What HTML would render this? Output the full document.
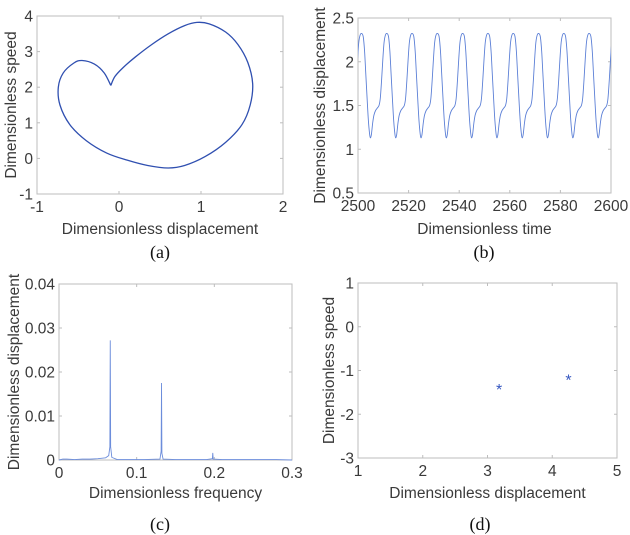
<!DOCTYPE html>
<html><head><meta charset="utf-8"><style>
html,body{margin:0;padding:0;background:#fff;width:630px;height:535px;overflow:hidden}
svg{display:block;font-family:"Liberation Sans",sans-serif}
.tk{font-size:15.5px;fill:#3a3a3a}
.at{font-size:15.5px;fill:#3a3a3a}
.cap{font-family:"Liberation Serif",serif;font-size:18px;fill:#111}
</style></head><body>
<svg id="fig" width="630" height="535" viewBox="0 0 630 535"></svg>
<script>
// ---- (a) phase portrait data ----
const aX = [-0.1,-0.05,0.05,0.2,0.4,0.6,0.8,0.95,1.1,1.3,1.45,1.57,1.63,1.6,1.5,1.3,1.05,0.8,0.6,0.35,0.1,-0.15,-0.4,-0.6,-0.72,-0.74,-0.68,-0.55,-0.45,-0.3,-0.18,-0.1];
const aY = [2.05,2.3,2.55,2.85,3.2,3.5,3.73,3.82,3.78,3.55,3.2,2.7,2.1,1.5,0.95,0.45,0.05,-0.2,-0.27,-0.2,-0.05,0.15,0.5,0.95,1.5,2.0,2.4,2.68,2.75,2.65,2.4,2.05];
const aXTicks = [-1,0,1,2];
const aYTicks = [-1,0,1,2,3,4];
// ---- (b) time series data ----
const bPeakTimes = [2491.6,2501.6,2511.6,2521.6,2531.6,2541.6,2551.6,2561.6,2571.6,2581.6,2591.6];
const bOffsets = [0,0.5,1,1.5,2,2.5,3,3.3,3.7,4.2,4.7,5.3,6,6.7,7.2,7.7,8.2,8.7,9.3];
const bValues  = [2.32,2.28,2.12,1.85,1.58,1.33,1.17,1.13,1.17,1.3,1.39,1.44,1.47,1.5,1.58,1.78,2.02,2.22,2.31];
const bXTicks = [2500,2520,2540,2560,2580,2600];
const bYTicks = [0.5,1,1.5,2,2.5];
// ---- (c) spectrum data ----
const cFreq = [0,0.005,0.01,0.02,0.03,0.04,0.05,0.06,0.064,0.0655,0.066,0.0665,0.068,0.075,0.09,0.11,0.13,0.1315,0.132,0.1325,0.134,0.15,0.17,0.19,0.1975,0.198,0.1985,0.21,0.23,0.26,0.28,0.3];
const cAmp  = [0,0.0002,0.0002,0.0001,0.0002,0.0002,0.0003,0.0005,0.001,0.003,0.0272,0.003,0.0006,0.0001,0.0001,0.0001,0.0002,0.002,0.0175,0.0015,0.0002,0.0001,0.0001,0.0001,0.0003,0.0016,0.0002,0.0001,0.0001,0.0001,0.0001,0];
const cXTicks = [0,0.1,0.2,0.3];
const cYTicks = [0,0.01,0.02,0.03,0.04];
// ---- (d) Poincaré points ----
const dX = [3.18,4.25];
const dY = [-1.4,-1.18];
const dXTicks = [1,2,3,4,5];
const dYTicks = [-3,-2,-1,0,1];

const NS="http://www.w3.org/2000/svg";
const svg=document.getElementById('fig');
function mk(t,at,p){const e=document.createElementNS(NS,t);for(const k in at)e.setAttribute(k,at[k]);(p||svg).appendChild(e);return e;}
function axes(id,L,R,T,B,x0,x1,y0,y1,xt,yt,xl,yl,fmt,cap,capx,capy,xlY,ylX){
  const g=mk('g',{});
  
  
  const sx=v=>L+(v-x0)/(x1-x0)*(R-L), sy=v=>B-(v-y0)/(y1-y0)*(B-T);
  const box=mk('rect',{x:L,y:T,width:R-L,height:B-T,fill:'none',stroke:'#bdbdbd','stroke-width':1},g);
  
  
  xt.forEach(v=>{const x=sx(v);
    mk('line',{x1:x,x2:x,y1:B,y2:B-3,stroke:'#bdbdbd'},g);mk('line',{x1:x,x2:x,y1:T,y2:T+3,stroke:'#bdbdbd'},g);
    const t=mk('text',{x:x,y:B+18,'text-anchor':'middle',class:'tk'},g);t.textContent=fmt(v);
    
    });
  yt.forEach(v=>{const y=sy(v);
    mk('line',{x1:L,x2:L+3,y1:y,y2:y,stroke:'#bdbdbd'},g);mk('line',{x1:R,x2:R-3,y1:y,y2:y,stroke:'#bdbdbd'},g);
    const t=mk('text',{x:L-4,y:y+5.5,'text-anchor':'end',class:'tk'},g);t.textContent=fmt(v);
    
    });
  const xa=mk('text',{x:(L+R)/2,y:xlY,'text-anchor':'middle',class:'at'},g);xa.textContent=xl;
  
  
  const ya=mk('text',{x:0,y:0,'text-anchor':'middle',class:'at',transform:`translate(${ylX},${(T+B)/2}) rotate(-90)`},g);ya.textContent=yl;
  
  
  const c=mk('text',{x:capx,y:capy,'text-anchor':'middle',class:'cap'},g);c.textContent=cap;
  
  
  return {g,sx,sy};
}
const fmtN=v=>String(v);
function smooth(px){let d=`M${px[0][0]},${px[0][1]}`;const n=px.length;
  for(let i=0;i<n-1;i++){const p0=px[Math.max(i-1,0)],p1=px[i],p2=px[i+1],p3=px[Math.min(i+2,n-1)];
    d+=` C${p1[0]+(p2[0]-p0[0])/6},${p1[1]+(p2[1]-p0[1])/6} ${p2[0]-(p3[0]-p1[0])/6},${p2[1]-(p3[1]-p1[1])/6} ${p2[0]},${p2[1]}`;}
  return d;}
// (a)
let A=axes('a',37,283,16,194,-1,2,-1,4,aXTicks,aYTicks,'Dimensionless displacement','Dimensionless speed',fmtN,'(a)',160,258,234,16);
const aPts=aX.map((x,i)=>[A.sx(x),A.sy(aY[i])]);
const pa=mk('path',{d:smooth(aPts),fill:'none',stroke:'#2f4fb0','stroke-width':1.3},A.g);


// (b)
let Bp=axes('b',358,611,18,193,2500,2600,0.5,2.5,bXTicks,bYTicks,'Dimensionless time','Dimensionless displacement',fmtN,'(b)',484,258,234,325);
let bPts=[];
bPeakTimes.forEach(p=>bOffsets.forEach((o,i)=>{const t=p+o;if(t>=2499&&t<=2601)bPts.push([Bp.sx(t),Bp.sy(bValues[i])]);}));
const cp=mk('clipPath',{id:'cb'});mk('rect',{x:358,y:18,width:253,height:175},cp);
const pb=mk('path',{d:smooth(bPts),fill:'none',stroke:'#5b7fd6','stroke-width':0.9,'clip-path':'url(#cb)'},Bp.g);


// (c)
let C=axes('c',59,292,284,460,0,0.3,0,0.04,cXTicks,cYTicks,'Dimensionless frequency','Dimensionless displacement',fmtN,'(c)',160,530,498,19);
const pc=mk('polyline',{points:cFreq.map((f,i)=>C.sx(f)+','+C.sy(cAmp[i])).join(' '),fill:'none',stroke:'#6c8ddb','stroke-width':0.9},C.g);


// (d)
let D=axes('d',358,617,283,458,1,5,-3,1,dXTicks,dYTicks,'Dimensionless displacement','Dimensionless speed',fmtN,'(d)',480,530,498,334);
dX.forEach((x,i)=>{const t=mk('text',{x:D.sx(x),y:D.sy(dY[i])+7,'text-anchor':'middle',fill:'#3556c0','font-size':'16px'},D.g);t.textContent='*';
  
  });
</script>
</body></html>
